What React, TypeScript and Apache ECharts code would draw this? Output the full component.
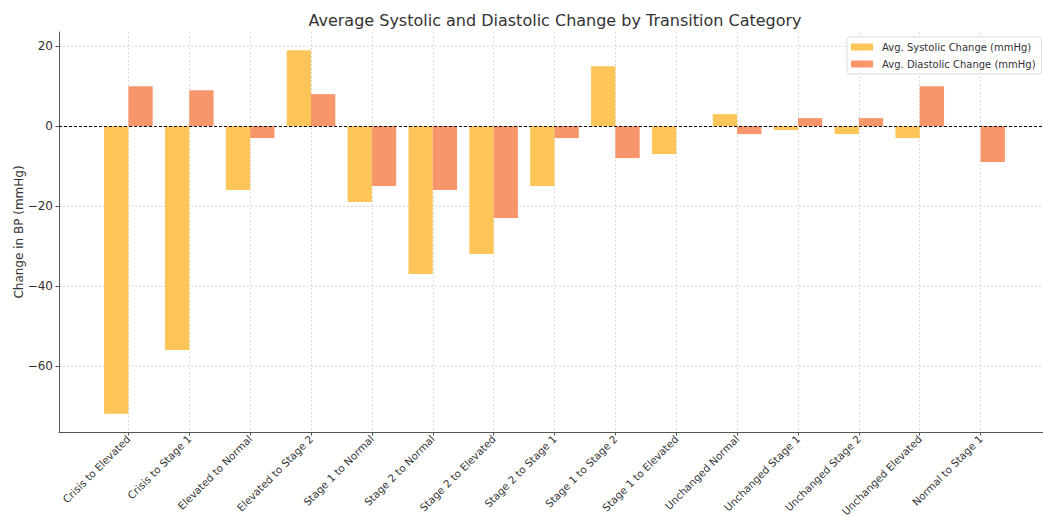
import React, { useEffect, useRef } from "react";
import * as echarts from "echarts";

const categories = [
  "Crisis to Elevated",
  "Crisis to Stage 1",
  "Elevated to Normal",
  "Elevated to Stage 2",
  "Stage 1 to Normal",
  "Stage 2 to Normal",
  "Stage 2 to Elevated",
  "Stage 2 to Stage 1",
  "Stage 1 to Stage 2",
  "Stage 1 to Elevated",
  "Unchanged Normal",
  "Unchanged Stage 1",
  "Unchanged Stage 2",
  "Unchanged Elevated",
  "Normal to Stage 1",
];
const systolic = [-72, -56, -16, 19, -19, -37, -32, -15, 15, -7, 3, -1, -2, -3, 0];
const diastolic = [10, 9, -3, 8, -15, -16, -23, -3, -8, 0, -2, 2, 2, 10, -9];
const yTicks = [-60, -40, -20, 0, 20];

const FONT = "DejaVu Sans";

export default function App() {
  const ref = useRef<HTMLDivElement>(null);
  useEffect(() => {
    if (!ref.current) return;
    const chart = echarts.init(ref.current, null, { renderer: "svg" });
    const xIdx = categories.map((_, i) => i);
    chart.setOption({
      animation: false,
      textStyle: { fontFamily: FONT },
      graphic: [
        {
          type: "text",
          x: 555,
          y: 20,
          style: {
            text: "Average Systolic and Diastolic Change by Transition Category",
            font: `16px "${FONT}"`,
            fill: "#333",
            textAlign: "center",
            textVerticalAlign: "middle",
          },
        },
      ],
      legend: {
        orient: "vertical",
        left: 847,
        top: 37,
        itemWidth: 22,
        itemHeight: 7,
        itemGap: 7,
        padding: [5, 6, 5, 4],
        borderColor: "#dddddd",
        borderWidth: 1,
        borderRadius: 3,
        backgroundColor: "rgba(255,255,255,0.8)",
        icon: "rect",
        textStyle: { fontFamily: FONT, fontSize: 10, color: "#333", padding: [0, 0, 0, 4] },
        data: ["Avg. Systolic Change (mmHg)", "Avg. Diastolic Change (mmHg)"],
      },
      grid: {
        left: 59,
        top: 32,
        bottom: 85,
        right: -7,
        containLabel: false,
        outerBoundsMode: "none",
      },
      xAxis: {
        type: "value",
        min: -1.14,
        max: 15.14,
        axisLine: { show: true, onZero: false, lineStyle: { color: "#555", width: 1 } },
        axisTick: {
          show: true,
          length: 3.5,
          customValues: xIdx,
          lineStyle: { color: "#555" },
        },
        axisLabel: {
          customValues: xIdx,
          rotate: 45,
          margin: 5,
          fontFamily: FONT,
          fontSize: 10.4,
          color: "#333",
          formatter: (v: number) => categories[Math.round(v)] ?? "",
        },
        splitLine: {
          show: true,
          lineStyle: { color: "#d0d0d0", type: [2, 2], width: 0.8 },
        },
      },
      yAxis: {
        type: "value",
        min: -76.55,
        max: 23.55,
        name: "Change in BP (mmHg)",
        nameLocation: "middle",
        nameGap: 34,
        nameMoveOverlap: false,
        nameTextStyle: { fontFamily: FONT, fontSize: 12, color: "#333" },
        axisLine: { show: true, onZero: false, lineStyle: { color: "#555", width: 1 } },
        axisTick: {
          show: true,
          length: 3.5,
          customValues: yTicks,
          lineStyle: { color: "#555" },
        },
        axisLabel: {
          customValues: yTicks,
          margin: 6,
          fontFamily: FONT,
          fontSize: 12,
          color: "#333",
          formatter: (v: number) => String(v).replace("-", "\u2212"),
        },
        splitLine: {
          show: true,
          lineStyle: { color: "#d0d0d0", type: [2, 2], width: 0.8 },
        },
      },
      series: [
        {
          name: "Avg. Systolic Change (mmHg)",
          type: "bar",
          barWidth: 24.3,
          barGap: "0%",
          itemStyle: { color: "#FEC658" },
          data: systolic.map((v, i) => [i, v]),
          markLine: {
            silent: true,
            symbol: ["none", "none"],
            label: { show: false },
            lineStyle: { color: "#000", type: [3, 2], width: 1 },
            data: [{ yAxis: 0 }],
          },
          z: 2,
        },
        {
          name: "Avg. Diastolic Change (mmHg)",
          type: "bar",
          barWidth: 24.3,
          barGap: "0%",
          itemStyle: { color: "#F6966A" },
          data: diastolic.map((v, i) => [i, v]),
          z: 2,
        },
      ],
    });
    return () => chart.dispose();
  }, []);
  return (
    <div
      ref={ref}
      style={{ position: "fixed", left: 0, top: 0, width: 1043, height: 517, background: "#fff" }}
    />
  );
}
